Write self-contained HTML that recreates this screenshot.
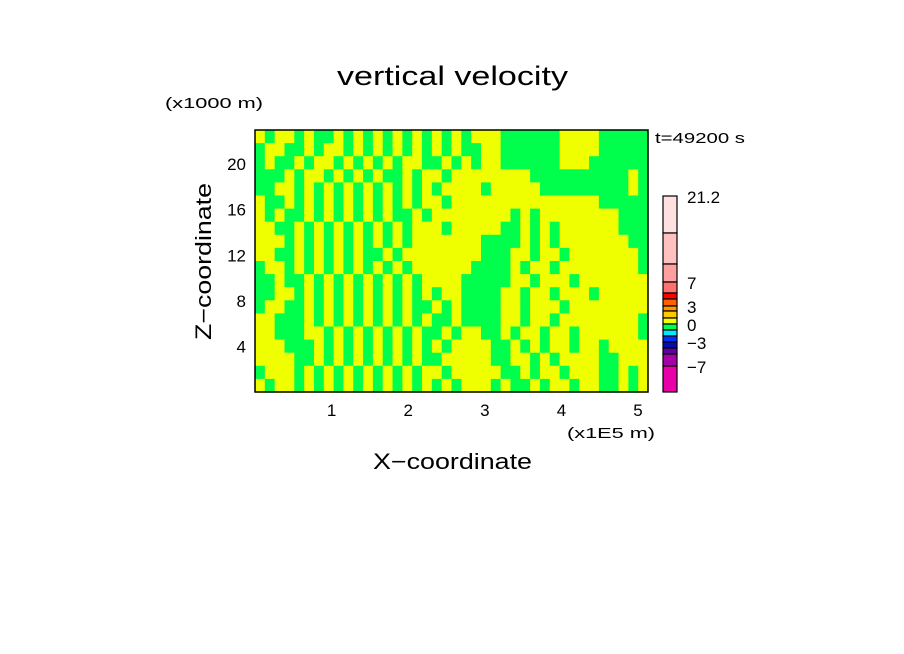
<!DOCTYPE html>
<html><head><meta charset="utf-8">
<style>
html,body{margin:0;padding:0;background:#fff;}
svg{display:block;font-family:"Liberation Sans",sans-serif;}
</style></head>
<body>
<svg id="chart" width="904" height="654" viewBox="0 0 904 654">
<rect x="0" y="0" width="904" height="654" fill="#fff"/>
<text x="337" y="85" font-size="27" textLength="231" lengthAdjust="spacingAndGlyphs">vertical velocity</text>
<text x="165" y="108" font-size="15" textLength="98" lengthAdjust="spacingAndGlyphs">(x1000 m)</text>
<text x="655" y="143" font-size="15" textLength="90" lengthAdjust="spacingAndGlyphs">t=49200 s</text>
<g id="field"></g>
<rect x="255" y="130" width="393" height="262" fill="none" stroke="#000" stroke-width="1.5"/>
<g id="yticks"></g>
<g id="xticks"></g>
<text x="567" y="438" font-size="15" textLength="88" lengthAdjust="spacingAndGlyphs">(x1E5 m)</text>
<text x="373" y="469" font-size="22" textLength="159" lengthAdjust="spacingAndGlyphs">X−coordinate</text>
<text x="0" y="0" transform="translate(211,340) rotate(-90)" font-size="22" textLength="157" lengthAdjust="spacingAndGlyphs">Z−coordinate</text>
<g id="colorbar"></g>
</svg>
<script>
const gridRows = [
"YGYYGYGGYGYGYGYGYG"+"YGYGYYYGGGGGGYYYYGGGGG",
"GYYGGYGYYGYGYGYGYG"+"YGYGGYYGGGGGGYYYYGGGGG",
"GYGGYGYYGYGYGYGYYG"+"GYGYGYYGGGGGGYYYGGGGGG",
"GGGYGYYGYGYGYGGYGY"+"YGYYYYYYYYGGGGGGGGGGYG",
"GGYYGYGYGYGYGYGYGY"+"GYYYYGYYYYYGGGGGGGGGYG",
"YGGYGYGYGYGYGYGYGY"+"YGYYYYYYYYYYYYYYYGGGGG",
"YGYGGYGYGYGYGYGGYG"+"YYYYYYYYGYGYYYYYYYYGGG",
"YYGGYGYGYGYGYGYGYY"+"YGYYYYYGGYGYGYYYYYYGGG",
"YYYGYGYGYGYGYGYGYY"+"YYYYYGGGGYGYGYYYYYYYGG",
"YYGGYGYGYGYGGYGYYY"+"YYYYYGGGYYGYYGYYYYYYYG",
"GYYGYGYGYGYGYGYGYY"+"YYYYGGGGYGYYGYYYYYYYYG",
"GGYGGYGYGYGYGYGYGY"+"YYYGGGGGYYGYYYGYYYYYYY",
"GGYYGYGYGYGYGYGYGY"+"GYYGGGGYYGYYGYYYGYYYYY",
"GYYGGYGYGYGYGYGYGG"+"YGYGGGGYYGYYYGYYYYYYYY",
"YYGGGYGYGYGYGYGYGY"+"GGYGGGGYYGYYGYYYYYYYYG",
"YYGGGYYGYGYGYGYGYG"+"GYGYYGGYGYYGYYGYYYYYYG",
"YYYGGGYGYGYGYGYGYG"+"YGYYYYGGYGYGYYGYYGYYYY",
"YYYYGGYGYGYGYGYGYG"+"GYYYYYGGYYGYGYYYYGGYYY",
"GYYYGYGYGYGYGYGYGY"+"YGYYYYYGGYGYYGYYYGGYGY",
"YGYYGYGYGYGYGYGYGY"+"GYGYYYGYGGYGYYGYYGGYGY"
];
const yTickValues = [4, 8, 12, 16, 20];
const xTickValues = [1, 2, 3, 4, 5];
const cbColors = ["#ffe0e0","#ffc0c0","#ffa0a0","#ff7070","#ff0000","#ff6000","#ff9800","#ffc800","#f0ff00","#00ff4c","#00e8ff","#0030ff","#0010b0","#6000a0","#a800a8","#e800a8"];
const cbLabels = [["21.2",0],["7",3],["3",6],["0",9],["−3",12],["−7",15]];

const NS = "http://www.w3.org/2000/svg";
const px0 = 255, px1 = 648, py0 = 130, py1 = 392;
const xMax = 5.13, zMax = 23;
function xs(v){ return px0 + v / xMax * (px1 - px0); }
function zs(v){ return py1 - v / zMax * (py1 - py0); }
function mk(tag, attrs, parent){ const e = document.createElementNS(NS, tag); for (const k in attrs) e.setAttribute(k, attrs[k]); parent.appendChild(e); return e; }

const field = document.getElementById("field");
const nR = gridRows.length, nC = gridRows[0].length;
const cw = (px1 - px0) / nC, ch = (py1 - py0) / nR;
for (let r = 0; r < nR; r++) {
  for (let c = 0; c < nC; c++) {
    const v = gridRows[r][c];
    const el = mk("rect", {x: px0 + c*cw, y: py0 + r*ch, width: cw + 0.6, height: ch + 0.6, fill: v === "Y" ? "#f0ff00" : "#00ff4c"}, field);
    
    
  }
}
const yt = document.getElementById("yticks");
yTickValues.forEach(v => {
  const t = mk("text", {x: 246, y: zs(v) + 6, "text-anchor": "end", "font-size": 17}, yt);
  t.textContent = v;
  
  
});
const xt = document.getElementById("xticks");
xTickValues.forEach(v => {
  const t = mk("text", {x: xs(v), y: 416, "text-anchor": "middle", "font-size": 17}, xt);
  t.textContent = v;
  
  
});
const cb = document.getElementById("colorbar");
const cbX = 663, cbW = 14;
const cbBounds = [196, 233, 264, 282, 293, 299, 306, 311, 318, 324, 330, 336, 342, 348, 354, 366, 392];
for (let i = 0; i < cbColors.length; i++) {
  const s = mk("rect", {x: cbX, y: cbBounds[i], width: cbW, height: cbBounds[i+1] - cbBounds[i], fill: cbColors[i], stroke: "#000", "stroke-width": 1.2}, cb);
  
  
}
cbLabels.forEach(([txt, idx]) => {
  const t = mk("text", {x: 687, y: cbBounds[idx] + 7, "font-size": 17}, cb);
  t.textContent = txt;
  
  
});
</script>
</body></html>
